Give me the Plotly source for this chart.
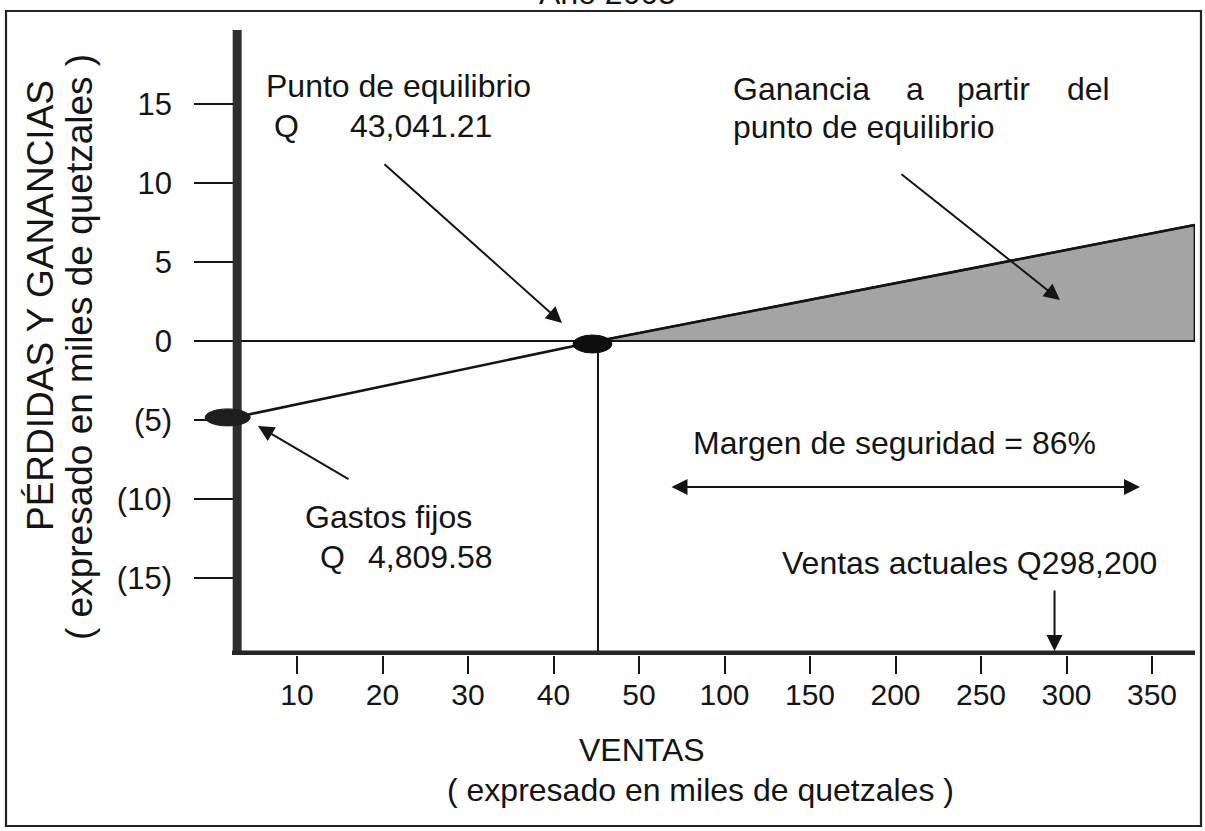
import plotly.graph_objects as go

# ---------------- data ----------------
x_tick_labels = ["10", "20", "30", "40", "50", "100", "150", "200", "250", "300", "350"]
y_tick_vals = [15, 10, 5, 0, -5, -10, -15]
y_tick_labels = ["15", "10", "5", "0", "(5)", "(10)", "(15)"]

# positions on the chart's (non-uniform) sales scale: 1 = "10", 2 = "20", ... 11 = "350"
origin_pos = 0.30          # sales = 0 (vertical axis)
breakeven_pos = 4.52       # Q 43,041.21
current_sales_pos = 9.86   # Q 298,200
end_pos = 11.50

fixed_cost = -4.81         # thousands of quetzales
profit_line_x = [origin_pos, breakeven_pos, end_pos]
profit_line_y = [fixed_cost, 0.0, 7.35]

gain_x = [breakeven_pos, end_pos, end_pos, breakeven_pos]
gain_y = [0.0, 7.35, 0.0, 0.0]

# ---------------- layout helpers ----------------
W, H = 1205, 831
L, R, T, B = 194, 1195, 30, 655
def pxx(x):
    return (x - L) / (R - L)
def pxy(y):
    return (B - y) / (B - T)

FONT = "Liberation Sans, Arial, sans-serif"
INK = "#141414"

fig = go.Figure()

fig.add_trace(go.Scatter(
    x=gain_x, y=gain_y, mode="lines", fill="toself",
    fillcolor="rgb(164,164,164)", line=dict(color=INK, width=2.2),
    hoverinfo="skip"))
fig.add_trace(go.Scatter(
    x=profit_line_x, y=profit_line_y, mode="lines",
    line=dict(color=INK, width=2.6), hoverinfo="skip"))

x_range = [-0.205, 11.503]
y_range = [-19.90, 19.71]

shapes = []
# outer frame
shapes.append(dict(type="rect", xref="paper", yref="paper",
                   x0=pxx(6), x1=pxx(1201), y0=pxy(826), y1=pxy(11),
                   line=dict(color="#222", width=2.2), layer="below"))
# vertical line from break-even to the sales axis
shapes.append(dict(type="line", xref="x", yref="y",
                   x0=breakeven_pos, x1=breakeven_pos, y0=0, y1=y_range[0],
                   line=dict(color=INK, width=2)))
# thick vertical axis
shapes.append(dict(type="line", xref="x", yref="paper",
                   x0=origin_pos, x1=origin_pos, y0=0, y1=1,
                   line=dict(color="#2e2e2e", width=9)))
# thick horizontal axis
shapes.append(dict(type="line", xref="paper", yref="y",
                   x0=pxx(232), x1=1, y0=y_range[0], y1=y_range[0],
                   line=dict(color="#262626", width=9)))
# ellipse markers
shapes.append(dict(type="circle", xref="x", yref="y",
                   xsizemode="pixel", ysizemode="pixel",
                   xanchor=origin_pos, yanchor=fixed_cost,
                   x0=-32, x1=13, y0=-9, y1=8,
                   fillcolor="#1e1e1e", line=dict(color="#1e1e1e", width=1)))
shapes.append(dict(type="circle", xref="x", yref="y",
                   xsizemode="pixel", ysizemode="pixel",
                   xanchor=breakeven_pos, yanchor=0,
                   x0=-25, x1=14, y0=-12, y1=6,
                   fillcolor="#0e0e0e", line=dict(color="#0e0e0e", width=1)))

ann = []
def text(t, x, y, size=32, xanchor="left", **kw):
    ann.append(dict(text=t, x=pxx(x), y=pxy(y), xref="paper", yref="paper",
                    xanchor=xanchor, yanchor="middle", showarrow=False,
                    font=dict(family=FONT, size=size, color=INK), **kw))

def arrow(x_tail, y_tail, x_tip, y_tip, both=False):
    d = dict(text="", x=pxx(x_tip), y=pxy(y_tip), xref="paper", yref="paper",
             ax=x_tail - x_tip, ay=y_tail - y_tip, axref="pixel", ayref="pixel",
             showarrow=True, arrowhead=2, arrowsize=1.6, arrowwidth=2,
             arrowcolor=INK, standoff=0, startstandoff=0)
    if both:
        d.update(arrowside="end+start", startarrowhead=2, startarrowsize=1.6)
    ann.append(d)

text("Año 2005", 607, -7, size=32, xanchor="center")
text("Punto de equilibrio", 264, 86)
text("Q", 272, 126)
text("43,041.21", 348, 126)
text("Ganancia", 731, 89)
text("a", 904, 89)
text("partir", 955, 89)
text("del", 1065, 89)
text("punto de equilibrio", 731, 127)
text("Gastos fijos", 303, 517)
text("Q", 318, 557)
text("4,809.58", 366, 557)
text("Margen de seguridad = 86%", 691, 443)
text("Ventas actuales Q298,200", 1159, 563, xanchor="right")
text("VENTAS", 642, 750, xanchor="center")
text("( expresado en miles de quetzales )", 700, 790, xanchor="center")
ann.append(dict(text="PÉRDIDAS Y GANANCIAS", x=pxx(40), y=pxy(306),
                xref="paper", yref="paper", textangle=-90, showarrow=False,
                xanchor="center", yanchor="middle",
                font=dict(family=FONT, size=37, color=INK)))
ann.append(dict(text="( expresado en miles de quetzales )", x=pxx(79), y=pxy(347),
                xref="paper", yref="paper", textangle=-90, showarrow=False,
                xanchor="center", yanchor="middle",
                font=dict(family=FONT, size=37, color=INK)))

arrow(383, 163, 562, 323)
arrow(900, 173, 1060, 300)
arrow(350, 480, 258, 426)
arrow(670, 487, 1140, 487, both=True)
ann.append(dict(text="", x=current_sales_pos, y=y_range[0], xref="x", yref="y",
                ax=0, ay=-62, axref="pixel", ayref="pixel", yshift=4,
                showarrow=True, arrowhead=2, arrowsize=1.6, arrowwidth=2,
                arrowcolor=INK, standoff=0))

fig.update_layout(
    width=W, height=H,
    margin=dict(l=L, r=W - R, t=T, b=H - B),
    paper_bgcolor="white", plot_bgcolor="white",
    showlegend=False,
    shapes=shapes, annotations=ann,
    xaxis=dict(range=x_range, tickvals=list(range(1, len(x_tick_labels) + 1)),
               ticktext=x_tick_labels, ticks="outside", ticklen=18, tickwidth=2,
               tickcolor=INK, showgrid=False, zeroline=False, showline=False,
               ticklabelstandoff=-5,
               tickfont=dict(family=FONT, size=30, color=INK), fixedrange=True),
    yaxis=dict(range=y_range, tickvals=y_tick_vals, ticktext=y_tick_labels,
               ticks="inside", ticklen=39, tickwidth=1.6, tickcolor=INK,
               showgrid=False, zeroline=True, zerolinecolor=INK, zerolinewidth=1.8,
               showline=False, ticklabelstandoff=21,
               tickfont=dict(family=FONT, size=31, color=INK), fixedrange=True),
)

fig.write_html(
    "out.html",
    config={"displayModeBar": False},
    post_script="document.body.style.margin='0';document.body.style.padding='0';"
                "document.body.style.overflow='hidden';",
)
